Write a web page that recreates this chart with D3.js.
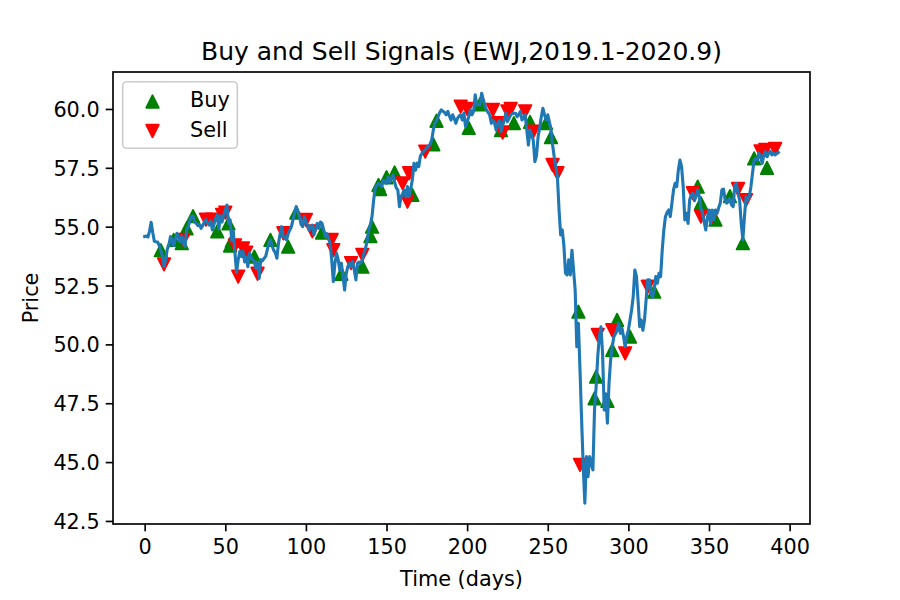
<!DOCTYPE html>
<html><head><meta charset="utf-8">
<script src="https://cdn.jsdelivr.net/npm/d3@7"></script>
<style>body{margin:0;background:#fff} text{font-family:"DejaVu Sans",sans-serif;fill:#000}</style>
</head><body><svg id="c" width="900" height="600"></svg>
<script>
const price = [
54.58,54.60,54.56,54.80,55.19,54.75,54.38,54.36,54.35,54.20,
54.00,53.75,53.30,53.60,54.05,54.20,54.58,54.45,54.20,54.45,
54.72,54.55,54.36,54.60,54.30,54.15,54.85,55.00,55.25,55.43,
55.45,55.20,55.14,55.05,55.10,54.93,55.05,55.20,55.30,55.15,
55.07,55.25,54.86,55.10,55.35,55.50,54.90,55.45,55.20,55.50,
55.70,55.92,55.14,55.29,54.40,54.80,53.87,53.05,53.60,53.94,
53.73,53.95,53.50,53.70,53.30,53.87,53.70,53.60,53.50,53.23,
53.50,52.80,53.60,53.55,53.65,53.73,54.00,54.30,54.44,54.20,
54.00,53.90,53.66,54.30,54.70,55.00,54.58,54.50,54.44,54.70,
54.86,55.00,55.30,55.60,55.85,55.65,55.43,55.10,55.00,55.43,
55.20,55.07,54.86,55.00,55.07,54.65,54.90,55.14,54.93,55.20,
55.14,54.86,54.58,54.70,54.50,54.30,53.59,52.67,53.45,53.87,
53.60,53.16,53.45,52.90,52.31,53.00,53.30,53.45,53.30,53.52,
53.16,52.74,53.45,53.50,53.45,53.59,53.87,54.10,54.40,54.86,
55.10,55.43,56.13,56.63,56.75,56.84,56.80,56.70,56.98,56.90,
56.84,57.12,56.90,57.05,57.20,56.90,56.65,56.56,55.85,56.27,
56.40,56.56,56.27,56.70,56.27,56.60,56.98,57.69,57.40,57.70,
57.55,58.00,58.12,58.20,58.26,58.35,58.40,58.50,58.68,59.10,
59.39,59.50,59.67,59.85,59.96,59.90,59.85,59.75,59.90,59.70,
59.53,59.75,59.60,59.39,59.60,59.70,59.75,59.53,59.82,59.25,
59.45,59.67,59.96,59.75,59.90,60.60,60.17,60.20,60.17,60.67,
60.40,60.17,59.96,59.85,59.75,59.39,59.53,59.40,59.10,59.39,
59.50,59.04,59.30,59.53,59.82,59.46,59.60,59.75,59.80,59.82,
59.82,59.67,59.75,59.89,59.53,59.60,59.75,59.10,58.47,59.10,
58.90,58.68,57.76,58.00,58.82,59.20,59.67,60.03,59.75,59.53,
59.75,59.46,59.10,58.47,57.97,57.55,57.12,55.71,54.65,54.86,
54.20,53.02,52.95,53.59,52.95,54.00,53.16,52.30,49.90,50.90,
48.91,46.79,44.81,43.25,45.23,44.38,45.23,44.95,44.67,47.21,
48.20,49.48,50.33,50.75,49.62,47.21,47.90,46.65,48.35,49.34,
49.90,50.33,50.45,50.61,50.90,50.47,50.69,50.33,49.90,50.33,
50.61,51.04,51.46,52.03,53.16,52.90,51.89,50.75,51.04,50.60,
51.04,51.89,52.74,52.74,52.17,52.00,52.30,52.88,52.60,53.02,
52.88,54.01,54.86,55.43,55.60,55.71,55.43,56.00,56.56,56.84,
56.70,57.41,57.83,57.55,56.70,55.29,55.57,55.14,56.13,56.35,
56.42,56.10,56.30,56.56,56.27,55.80,55.57,55.21,54.86,55.40,
55.71,55.14,55.71,55.29,55.71,55.57,55.80,56.00,56.56,56.60,
56.13,56.00,56.10,56.20,55.92,55.85,56.77,56.84,56.42,56.13,
55.14,54.44,55.43,56.27,56.13,56.27,56.70,57.27,57.83,57.90,
57.83,58.12,57.97,57.69,58.05,58.19,57.97,58.12,58.20,58.05,
58.12,58.05,58.10,58.15
];
const buyDays   = [10,18,23,26,30,45,52,53,54,68,78,89,94,110,122,135,140,141,145,146,150,155,166,179,181,201,208,221,229,239,249,252,269,279,280,287,290,293,301,316,343,345,354,363,371,378,386];
const buyPrices = [54.0,54.44,54.3,54.93,55.45,54.8,55.14,54.2,54.4,53.73,54.44,54.15,55.6,54.75,53.0,53.3,54.6,55.0,56.77,56.6,57.1,57.3,56.35,58.5,59.5,59.2,60.2,59.1,59.4,59.45,59.4,58.8,51.39,47.71,48.63,47.6,49.76,51.04,50.33,52.24,56.7,56.0,55.3,56.3,54.3,57.9,57.5];
const sellDays   = [12,24,38,42,48,50,56,58,61,63,70,86,100,104,116,117,128,135,160,163,164,174,196,200,216,219,222,225,227,236,241,253,256,270,281,290,298,312,340,345,352,368,373,382,385,391];
const sellPrices = [53.4,54.44,55.3,55.3,55.5,55.6,54.2,52.88,54.08,53.9,53.0,54.72,55.29,54.8,54.44,54.0,53.45,53.8,56.84,56.06,57.27,58.19,60.1,60.0,59.96,59.4,59.0,59.9,60.0,59.9,59.04,57.62,57.27,44.88,50.4,50.6,49.62,52.45,56.42,55.43,55.43,56.6,56.13,58.2,58.26,58.3];
const xTicks = [0,50,100,150,200,250,300,350,400];
const yTicks = [42.5,45.0,47.5,50.0,52.5,55.0,57.5,60.0];
const titleText = "Buy and Sell Signals (EWJ,2019.1-2020.9)";
const xLabel = "Time (days)", yLabel = "Price";
const legendLabels = ["Buy","Sell"];

const L=113,R=810,T=72,B=524;
const svg=d3.select("#c");
const n=price.length-1;
const x=d3.scaleLinear().domain([-0.05*n,1.05*n]).range([L,R]);
const y=d3.scaleLinear().domain([42.37,61.57]).range([B,T]);
const h=6.25;
const up=(cx,cy)=>`M${cx},${cy-h}L${cx-h},${cy+h}L${cx+h},${cy+h}Z`;
const dn=(cx,cy)=>`M${cx},${cy+h}L${cx-h},${cy-h}L${cx+h},${cy-h}Z`;

const g=svg.append("g");
g.selectAll("path.buy").data(buyDays).enter().append("path")
 .attr("d",(d,i)=>up(x(d),y(buyPrices[i]))).attr("fill","#008000").attr("stroke","#008000").attr("stroke-width",1.8).attr("stroke-linejoin","round");
g.selectAll("path.sell").data(sellDays).enter().append("path")
 .attr("d",(d,i)=>dn(x(d),y(sellPrices[i]))).attr("fill","#ff0000").attr("stroke","#ff0000").attr("stroke-width",1.8).attr("stroke-linejoin","round");
g.append("path").datum(price).attr("fill","none").attr("stroke","#1f77b4").attr("stroke-width",3.1)
 .attr("stroke-linejoin","round").attr("stroke-linecap","square")
 .attr("d",d3.line().x((d,i)=>x(i)).y(d=>y(d)));

const xa=svg.append("g").attr("transform",`translate(0,${B})`)
 .call(d3.axisBottom(x).tickValues(xTicks).tickFormat(d3.format("d")).tickSizeOuter(0).tickSize(7.3).tickPadding(6));
const ya=svg.append("g").attr("transform",`translate(${L},0)`)
 .call(d3.axisLeft(y).tickValues(yTicks).tickFormat(d3.format(".1f")).tickSizeOuter(0).tickSize(7.3).tickPadding(6));
[xa,ya].forEach(a=>{a.select(".domain").remove();a.selectAll("line").attr("stroke","#000").attr("stroke-width",1.67);
 a.selectAll("text").attr("font-size","20.8px").attr("font-family","DejaVu Sans").attr("fill","#000");});
xa.selectAll("text").attr("dy",null).attr("y",29.8);
ya.selectAll("text").attr("dy","0.36em");

svg.append("rect").attr("x",L).attr("y",T).attr("width",R-L).attr("height",B-T)
 .attr("fill","none").attr("stroke","#000").attr("stroke-width",1.67);

svg.append("text").attr("x",(L+R)/2).attr("y",59.5).attr("text-anchor","middle").attr("font-size","25px").text(titleText);
svg.append("text").attr("x",(L+R)/2).attr("y",586).attr("text-anchor","middle").attr("font-size","20.8px").text(xLabel);
svg.append("text").attr("transform",`translate(38,${(T+B)/2}) rotate(-90)`).attr("text-anchor","middle").attr("font-size","20.8px").text(yLabel);

const lg=svg.append("g");
lg.append("rect").attr("x",122.7).attr("y",81.7).attr("width",114.6).attr("height",66.6).attr("rx",4)
 .attr("fill","#fff").attr("fill-opacity",0.8).attr("stroke","#cccccc").attr("stroke-width",1.6);
lg.append("path").attr("d",up(152.5,101.5)).attr("fill","#008000").attr("stroke","#008000").attr("stroke-width",1.8).attr("stroke-linejoin","round");
lg.append("path").attr("d",dn(152.5,131)).attr("fill","#ff0000").attr("stroke","#ff0000").attr("stroke-width",1.8).attr("stroke-linejoin","round");
lg.append("text").attr("x",190).attr("y",107.3).attr("font-size","20.8px").text(legendLabels[0]);
lg.append("text").attr("x",190).attr("y",136.7).attr("font-size","20.8px").text(legendLabels[1]);
</script></body></html>
